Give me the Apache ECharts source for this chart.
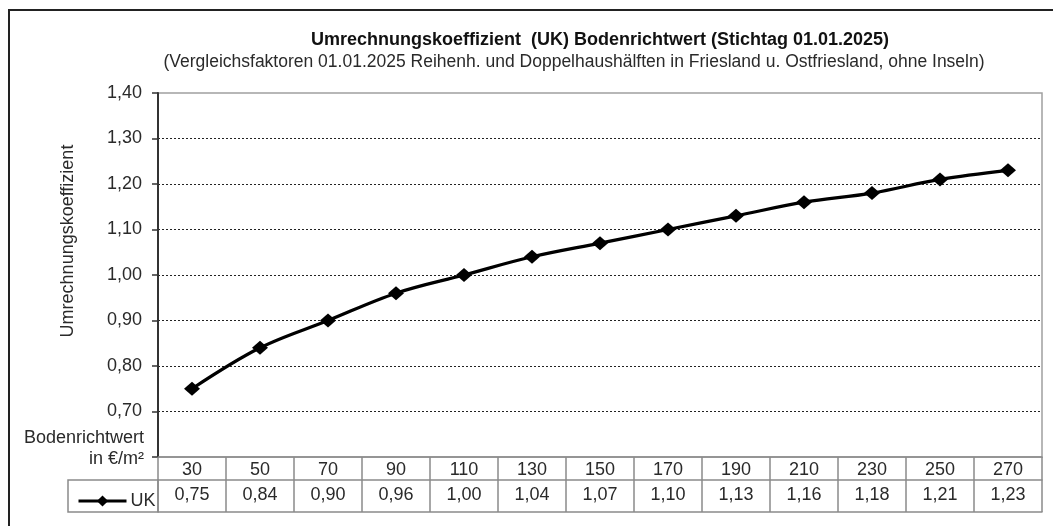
<!DOCTYPE html>
<html>
<head>
<meta charset="utf-8">
<script src="https://cdn.jsdelivr.net/npm/echarts@6/dist/echarts.min.js"></script>
<style>
html,body{margin:0;padding:0;background:#fff;}
#chart{width:1053px;height:526px;}
</style>
</head>
<body>
<div id="chart"></div>
<script>
const titleText = 'Umrechnungskoeffizient  (UK) Bodenrichtwert (Stichtag 01.01.2025)';
const subtitleText = '(Vergleichsfaktoren 01.01.2025 Reihenh. und Doppelhaushälften in Friesland u. Ostfriesland, ohne Inseln)';
const yAxisName = 'Umrechnungskoeffizient';
const xAxisName = ['Bodenrichtwert', 'in €/m²'];
const seriesName = 'UK';
const categories = ['30','50','70','90','110','130','150','170','190','210','230','250','270'];
const ukValues = [0.75,0.84,0.90,0.96,1.00,1.04,1.07,1.10,1.13,1.16,1.18,1.21,1.23];
const yMin = 0.6, yMax = 1.4, yStep = 0.1;

const FONT = '"Liberation Sans", Arial, sans-serif';
const TXT = '#2a2a2a';
const TBL = '#8a8a8a';
const FS = 18;
const fmt = v => v.toFixed(2).replace('.', ',');

const chart = echarts.init(document.getElementById('chart'));
chart.setOption({
  animation: false,
  backgroundColor: '#fff',
  textStyle: {fontFamily: FONT},
  grid: {left: 158, right: 11, top: 93, bottom: 69, show: true, borderColor: '#a0a0a0', borderWidth: 1.5},
  legend: {
    show: true, left: 72, top: 487, itemWidth: 48, itemHeight: 14, itemGap: 4,
    lineStyle: {width: 3},
    textStyle: {fontFamily: FONT, fontSize: FS, color: TXT, padding: [0,0,0,-1]},
    data: [seriesName]
  },
  xAxis: [
    {
      type: 'category', data: categories, position: 'bottom', boundaryGap: true,
      axisLine: {show: true, lineStyle: {color: TBL, width: 1.5}},
      axisTick: {show: true, length: 55, interval: 0, lineStyle: {color: TBL, width: 1.5}},
      axisLabel: {margin: 4, fontSize: FS, color: TXT, fontFamily: FONT, interval: 0},
      splitLine: {show: false}
    },
    {
      type: 'category', data: categories, position: 'bottom', offset: 23, boundaryGap: true,
      axisLine: {show: true, lineStyle: {color: TBL, width: 1.5}},
      axisTick: {show: false},
      axisLabel: {margin: 6, fontSize: FS, color: TXT, fontFamily: FONT, interval: 0,
        formatter: (v, i) => fmt(ukValues[i])},
      splitLine: {show: false}
    },
    {
      type: 'category', data: categories, position: 'bottom', offset: 55, boundaryGap: true,
      axisLine: {show: true, lineStyle: {color: TBL, width: 1.5}},
      axisTick: {show: false}, axisLabel: {show: false}, splitLine: {show: false}
    }
  ],
  yAxis: {
    type: 'value', min: yMin, max: yMax, interval: yStep,
    axisLine: {show: true, lineStyle: {color: '#333', width: 2}},
    axisTick: {show: true, length: 6, lineStyle: {color: '#333', width: 1.5}},
    axisLabel: {margin: 16, fontSize: FS, color: TXT, fontFamily: FONT,
      formatter: v => (Math.abs(v - yMin) < 1e-6 ? '' : fmt(v))},
    splitLine: {show: true, showMinLine: false, showMaxLine: false,
      lineStyle: {color: '#222', width: 1, type: [2, 2]}}
  },
  series: [{
    name: seriesName, type: 'line', data: ukValues, smooth: 0.35,
    symbol: 'diamond', symbolSize: [16, 14],
    lineStyle: {color: '#000', width: 3.2},
    itemStyle: {color: '#000'}
  }],
  graphic: [
    {type: 'polyline', shape: {points: [[9, 526], [9, 10], [1053, 10]]},
     style: {stroke: '#222', lineWidth: 2, fill: null}, silent: true},
    {type: 'rect', shape: {x: 68, y: 480, width: 90, height: 32},
     style: {stroke: TBL, lineWidth: 1.5, fill: null}, silent: true, z: 0},
    {type: 'text', x: 600, y: 40, style: {text: titleText, font: 'bold 18px ' + FONT, fill: '#111', align: 'center', verticalAlign: 'middle'}},
    {type: 'text', x: 574, y: 62, style: {text: subtitleText, font: '17.5px ' + FONT, fill: TXT, align: 'center', verticalAlign: 'middle'}},
    {type: 'text', x: 68, y: 241, rotation: Math.PI / 2, style: {text: yAxisName, font: FS + 'px ' + FONT, fill: TXT, align: 'center', verticalAlign: 'middle'}},
    {type: 'text', x: 144, y: 438, style: {text: xAxisName[0], font: FS + 'px ' + FONT, fill: TXT, align: 'right', verticalAlign: 'middle'}},
    {type: 'text', x: 144, y: 459, style: {text: xAxisName[1], font: FS + 'px ' + FONT, fill: TXT, align: 'right', verticalAlign: 'middle'}}
  ]
});
</script>
</body>
</html>
